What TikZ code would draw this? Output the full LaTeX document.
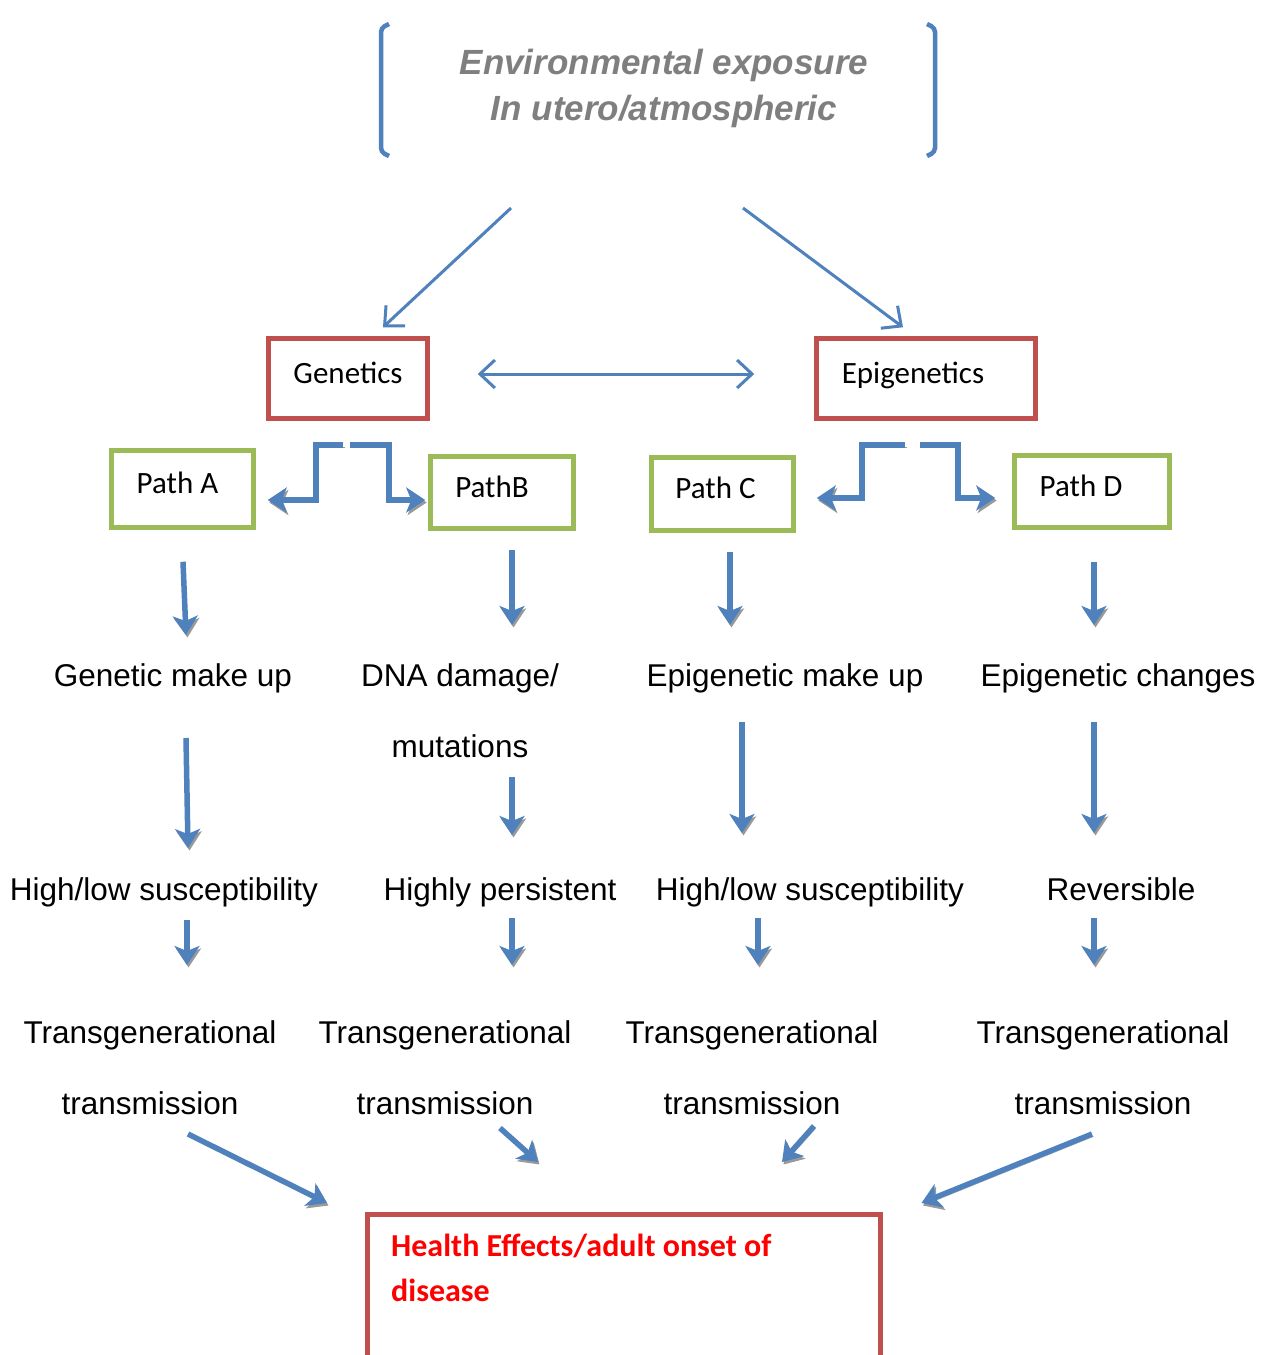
\documentclass[tikz,border=0pt]{standalone}
\usepackage{fontspec}
\setmainfont{Liberation Sans}
\newfontfamily\calibri{Carlito}
\usetikzlibrary{arrows.meta}
\definecolor{arrblue}{HTML}{4F81BD}
\definecolor{boxred}{HTML}{C0504D}
\definecolor{boxgreen}{HTML}{9BBB59}
\definecolor{titlegrey}{HTML}{7F7F7F}
\definecolor{healthred}{HTML}{FF0000}
\tikzset{
  txt/.style={inner sep=0pt, anchor=base, font=\fontsize{31.5}{38}\selectfont},
  twoline/.style={inner sep=0pt, anchor=north, align=center, font=\fontsize{31.5}{71}\selectfont},
  boxlabel/.style={font=\calibri\fontsize{31}{38}\selectfont, text height=20pt, text depth=11pt, inner sep=0pt},
  redbox/.style={boxlabel, draw=boxred, line width=4.5pt},
  greenbox/.style={boxlabel, draw=boxgreen, line width=4.5pt},
  slimarrow/.style={draw=arrblue, line width=3pt, -{Straight Barb[length=15pt,width=28pt]}},
  fatarrow/.style={draw=arrblue, line width=5.5pt, -{Stealth[length=19pt,width=25pt,inset=5pt]},
    preaction={draw=black!40, transform canvas={shift={(1.5pt,-2.5pt)}}}},
  bracket/.style={draw=arrblue, line width=4.5pt, rounded corners=4pt}
}

\begin{document}
\begin{tikzpicture}[x=1pt,y=-1pt]
    \useasboundingbox (0,0) rectangle (1270,1355);
    \fill[white] (0,0) rectangle (1270,1355);

    % exposure
    \draw[bracket] (389,24) -- (381,28) -- (381,152) -- (389,156);
    \draw[bracket] (927,24) -- (935,28) -- (935,152) -- (927,156);
    \node[anchor=north, inner sep=0pt, align=center, text=titlegrey,
      font=\bfseries\itshape\fontsize{35}{46}\selectfont] (env) at (664,49)
      {Environmental exposure\\In utero/atmospheric};

    % boxes
    \node[redbox, minimum width=159pt, minimum height=80pt] (gen) at (348,378.5) {Genetics};
    \node[redbox, minimum width=219pt, minimum height=80pt] (epi) at (926,378.5) {Epigenetics\hspace*{26pt}};
    \node[greenbox, minimum width=142pt, minimum height=77pt] (pa) at (182.5,489) {Path A\hspace*{10pt}};
    \node[greenbox, minimum width=143pt, minimum height=72pt] (pb) at (502,492.5) {PathB\hspace*{20pt}};
    \node[greenbox, minimum width=142pt, minimum height=73pt] (pc) at (722.5,494) {Path C\hspace*{14pt}};
    \node[greenbox, minimum width=155pt, minimum height=72pt] (pd) at (1092,491.5) {Path D\hspace*{22pt}};

    % texts
    \node[txt] (gA) at (173,686) {Genetic make up};
    \node[twoline] (dna) at (460,663) {DNA damage/\\mutations};
    \node[txt] (eA) at (785,686) {Epigenetic make up};
    \node[txt] (eB) at (1118,686) {Epigenetic changes};
    \node[txt] (sA) at (164,900) {High/low susceptibility};
    \node[txt] (sB) at (500,900) {Highly persistent};
    \node[txt] (sC) at (810,900) {High/low susceptibility};
    \node[txt] (sD) at (1121,900) {Reversible};
    \node[twoline] (tA) at (150,1020) {Transgenerational\\transmission};
    \node[twoline] (tB) at (445,1020) {Transgenerational\\transmission};
    \node[twoline] (tC) at (752,1020) {Transgenerational\\transmission};
    \node[twoline] (tD) at (1103,1020) {Transgenerational\\transmission};

    \node[draw=boxred, line width=4.5pt, anchor=north west, minimum width=513pt,
      minimum height=200pt] (health) at (365,1212) {};
    \node[anchor=north west, inner sep=0pt, align=left, text=healthred,
      font=\calibri\bfseries\fontsize{32}{45}\selectfont] (healthtxt) at (391,1234)
      {Health Effects/adult onset of\\disease};

    % thin arrows
    \draw[slimarrow] ([shift={(-153pt,-80pt)}]env.south) -- ([shift={(35pt,9pt)}]gen.north);
    \draw[slimarrow] ([shift={(79pt,-80pt)}]env.south) -- ([shift={(-23pt,9pt)}]epi.north);
    \draw[slimarrow, {Straight Barb[length=15pt,width=28pt]}-{Straight Barb[length=15pt,width=28pt]},
      shorten <=48pt, shorten >=60pt] ([yshift=4.5pt]gen.east) -- ([yshift=4.5pt]epi.west);

    % elbows
    \draw[fatarrow, line width=6.5pt] ([shift={(-5pt,-24pt)}]gen.south) -- ++(-27,0) |- ([shift={(12pt,-11pt)}]pa.east);
    \draw[fatarrow, line width=6.5pt] ([shift={(2pt,-24pt)}]gen.south) -- ++(39,0) |- ([shift={(-3pt,-7.5pt)}]pb.west);
    \draw[fatarrow, line width=6.5pt] ([shift={(-21pt,-24pt)}]epi.south) -- ++(-43,0) |- ([shift={(21pt,-4pt)}]pc.east);
    \draw[fatarrow, line width=6.5pt] ([shift={(-6pt,-24pt)}]epi.south) -- ++(38,0) |- ([shift={(-17pt,-6.5pt)}]pd.west);

    % downward
    \draw[fatarrow] ([shift={(0.5pt,-32pt)}]pa.south) -- ([shift={(13pt,51pt)}]gA.base);
    \draw[fatarrow] ([shift={(10pt,-19pt)}]pb.south) -- ([shift={(52pt,38pt)}]dna.north);
    \draw[fatarrow] ([shift={(7.5pt,-19pt)}]pc.south) -- ([shift={(-55pt,61pt)}]eA.base);
    \draw[fatarrow] ([shift={(2pt,-32pt)}]pd.south) -- ([shift={(-24pt,61pt)}]eB.base);

    \draw[fatarrow] ([shift={(13pt,-52pt)}]gA.base) -- ([shift={(24pt,52pt)}]sA.base);
    \draw[fatarrow] ([shift={(52pt,-19.5pt)}]dna.south) -- ([shift={(12pt,65pt)}]sB.base);
    \draw[fatarrow] ([shift={(-43pt,-36pt)}]eA.base) -- ([shift={(-68pt,67pt)}]sC.base);
    \draw[fatarrow] ([shift={(-24pt,-36pt)}]eB.base) -- ([shift={(-27pt,67pt)}]sD.base);

    \draw[fatarrow] ([shift={(23pt,-20pt)}]sA.base) -- ([shift={(37pt,55pt)}]tA.north);
    \draw[fatarrow] ([shift={(12pt,-18pt)}]sB.base) -- ([shift={(67pt,55pt)}]tB.north);
    \draw[fatarrow] ([shift={(-52pt,-18pt)}]sC.base) -- ([shift={(6pt,55pt)}]tC.north);
    \draw[fatarrow] ([shift={(-27pt,-18pt)}]sD.base) -- ([shift={(-9pt,55pt)}]tD.north);

    % into health box
    \draw[fatarrow] ([shift={(38pt,-19.5pt)}]tA.south) -- ([shift={(-38pt,9pt)}]health.north west);
    \draw[fatarrow] ([shift={(55pt,-13.5pt)}]tB.south) -- ([shift={(173pt,50pt)}]health.north west);
    \draw[fatarrow] ([shift={(62pt,-11.5pt)}]tC.south) -- ([shift={(417pt,50pt)}]health.north west);
    \draw[fatarrow] ([shift={(-11pt,-19.5pt)}]tD.south) -- ([shift={(39pt,9pt)}]health.north east);
\end{tikzpicture}
\end{document}
